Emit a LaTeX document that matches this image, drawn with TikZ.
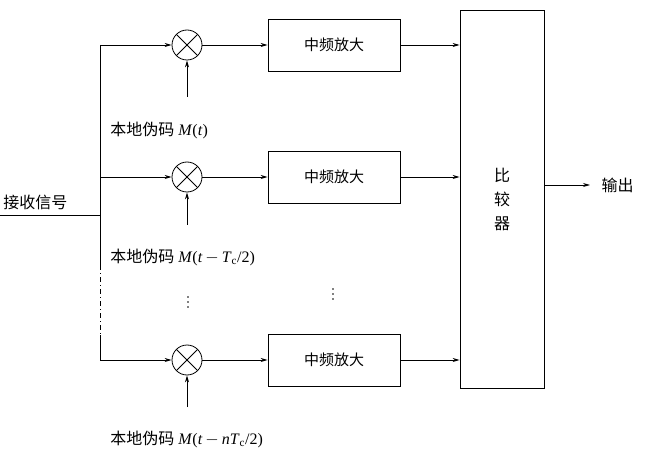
\documentclass[tikz,border=0pt]{standalone}
\usepackage{fontspec}
\setmainfont{Liberation Serif}
\newfontfamily\cjk{Noto Sans CJK SC}
\usetikzlibrary{arrows.meta}
\begin{document}
\begin{tikzpicture}[x=1pt,y=-1pt,
  line width=0.8pt,
  arr/.style={-{Stealth[length=7pt,width=4pt]}},
  amp/.style={draw,minimum width=132pt,minimum height=52pt,font=\cjk\fontsize{15}{16}\selectfont},
  mix/.style={draw,circle,minimum size=30pt,inner sep=0pt,path picture={\draw (path picture bounding box.north west)--(path picture bounding box.south east) (path picture bounding box.north east)--(path picture bounding box.south west);}},
  lbl/.style={font=\fontsize{16}{18}\selectfont,anchor=west,inner sep=0pt},
  dot/.style={circle,fill,inner sep=0pt,minimum size=1.6pt}]
\useasboundingbox (0,0) rectangle (648,457);
\node[mix] (m1) at (187,45) {};
\node[mix] (m2) at (187,177) {};
\node[mix] (m3) at (187,360) {};
\node[amp] (a1) at (334,45) {中频放大};
\node[amp] (a2) at (334,177) {中频放大};
\node[amp] (a3) at (334,360) {中频放大};
\node[draw,minimum width=84pt,minimum height=378pt,font=\cjk\fontsize{16}{24}\selectfont,align=center] (cmp) at (502,199) {比\\较\\器};
\coordinate (b1) at (100,45);
\coordinate (b2) at (100,177);
\coordinate (b3) at (100,360);
\coordinate (bd1) at (100,265);
\coordinate (bd2) at (100,335);
\coordinate (in) at (0,215);
\coordinate (inb) at (100,215);
\draw (b1)--(bd1) (bd2)--(b3);
\draw[dash pattern=on 5pt off 3pt on 1pt off 3pt] (bd1)--(bd2);
\draw (in)--(inb);
\node[font=\cjk\fontsize{16}{18}\selectfont,anchor=south west,inner sep=1pt] (lin) at (2,211) {接收信号};
\foreach \i in {1,2,3}{
  \draw[arr] (b\i)--(m\i.west);
  \draw[arr] (m\i.east)--(a\i.west);
  \coordinate (c\i) at (cmp.west |- a\i);
  \draw[arr] (a\i.east)--(c\i);
}
\coordinate (l1) at (187,97);
\coordinate (l2) at (187,225);
\coordinate (l3) at (187,407);
\foreach \i in {1,2,3}{\draw[arr] (l\i)--(m\i.south);}
\node[lbl] (t1) at (110,130) {{\cjk 本地伪码} \textit{M}(\textit{t})};
\node[lbl] (t2) at (110,257) {{\cjk 本地伪码} \textit{M}(\textit{t}$\,-\,$\textit{T}$_{\mathrm c}$/2)};
\node[lbl] (t3) at (110,439) {{\cjk 本地伪码} \textit{M}(\textit{t}$\,-\,$\textit{nT}$_{\mathrm c}$/2)};
\foreach \y in {297,302,307}{\node[dot] at (188,\y) {};}
\foreach \y in {289,294,299}{\node[dot] at (333,\y) {};}
\coordinate (out) at (590,185);
\draw[arr] (cmp.east |- out)--(out);
\node[font=\cjk\fontsize{16}{18}\selectfont,anchor=west] (lout) at (598,185) {输出};
\end{tikzpicture}
\end{document}
